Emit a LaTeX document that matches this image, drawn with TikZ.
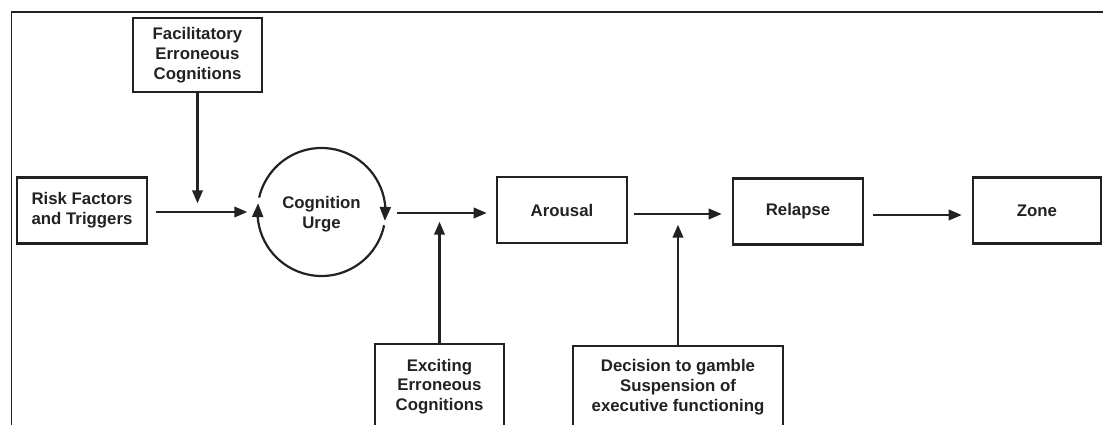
\documentclass[tikz,border=0pt]{standalone}
\usepackage{fontspec}
\setmainfont{Liberation Sans}
\usetikzlibrary{arrows.meta, positioning, calc, bending}
\definecolor{inkgray}{HTML}{222222}

\begin{document}
\begin{tikzpicture}[x=1pt, y=1pt, font=\fontsize{16.8}{19.8}\selectfont\bfseries,
    >={Triangle[length=13pt,width=10.5pt]},
    stage/.style={rectangle, draw=inkgray, line width=2.6pt, text=inkgray,
      minimum width=130pt, minimum height=66pt, align=center, inner sep=0pt},
    urge/.style={circle, minimum size=128pt, text=inkgray, align=center, inner sep=0pt},
    flow/.style={->, line width=2.2pt, inkgray},
    loopflow/.style={-{Triangle[length=14pt,width=11pt,flex]}, line width=2.2pt, inkgray},
  ]
    \useasboundingbox (0,0) rectangle (1103,-425);
    \clip (0,0) rectangle (1103,-425);
    \draw[line width=1.6pt, inkgray] (11.5,-425) -- (11.5,-12) -- (1103,-12);

    \node[stage, minimum width=129pt, minimum height=74pt] (facil) at (197.5,-55) {Facilitatory\\Erroneous\\Cognitions};
    \node[stage] (risk) at (82,-210.5) {Risk Factors\\and Triggers};
    \node[urge] (cog) at (321.5,-214) {Cognition\\Urge};
    \node[stage] (arousal) at (562,-210) {Arousal};
    \node[stage] (relapse) at (798,-211.5) {Relapse};
    \node[stage, minimum width=128pt] (zone) at (1037,-210.5) {Zone};

    \node[stage, minimum width=129pt, minimum height=85pt] (excite) at (439.5,-386.5) {Exciting\\Erroneous\\Cognitions};
    \node[stage, minimum width=210pt, minimum height=82pt] (decide) at (678,-387) {Decision to gamble\\Suspension of\\executive functioning};

    % the urge loop
    \coordinate (loop) at (321.5,-212);
    \draw[loopflow] ($(loop)+(-12:64pt)$) arc[start angle=-12, end angle=-188, radius=64pt];
    \draw[loopflow] ($(loop)+(167:64pt)$) arc[start angle=167, end angle=-8, radius=64pt];

    \coordinate (fjoin) at ([yshift=-110pt]facil.south);
    \coordinate (ejoin) at ([yshift=121pt]excite.north);
    \coordinate (djoin) at ([yshift=120pt]decide.north);

    \draw[flow, shorten <=8pt, shorten >=10pt] (loop -| risk.east) -- (loop -| cog.west);
    \draw[flow, shorten <=11pt, shorten >=9pt] ([yshift=-1pt]loop -| cog.east) -- ([yshift=-1pt]loop -| arousal.west);
    \draw[flow, shorten <=6pt, shorten >=10pt] ([yshift=-4pt]arousal.east) -- ([yshift=-4pt]arousal.east -| relapse.west);
    \draw[flow, shorten <=9pt, shorten >=10pt] ([yshift=-3.5pt]relapse.east) -- ([yshift=-3.5pt]relapse.east -| zone.west);

    \draw[flow] (facil) -- (fjoin);
    \draw[flow] (excite) -- (ejoin);
    \draw[flow] (decide) -- (djoin);
\end{tikzpicture}
\end{document}
